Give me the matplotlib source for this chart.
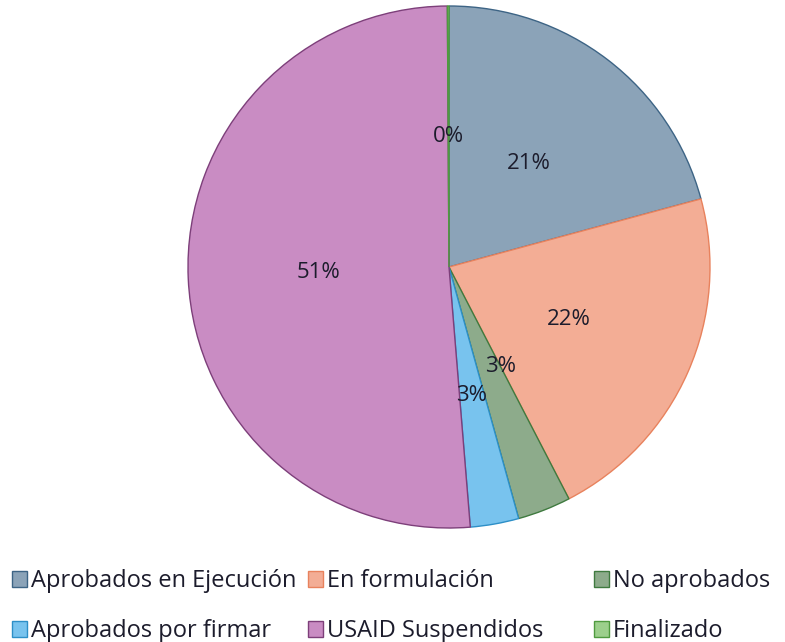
import matplotlib
matplotlib.use("Agg")
import matplotlib.pyplot as plt
import numpy as np
from matplotlib.patches import Patch

plt.rcParams['font.family'] = ['Open Sans', 'DejaVu Sans']

categories = ["Aprobados en Ejecución", "En formulación", "No aprobados",
              "Aprobados por firmar", "USAID Suspendidos", "Finalizado"]
values = [20.8, 21.6, 3.3, 3.0, 51.2, 0.1]
colors = ["#8ba3b8", "#f3ad95", "#8dab8b", "#78c3ee", "#c98cc3", "#9ccf8c"]
edges = ["#3d6485", "#e8825d", "#3f7a3f", "#2d8fc7", "#7d3f7a", "#4f9a3f"]

fig = plt.figure(figsize=(7.85, 6.42), dpi=100)
W, H = 785, 642
cx, cy, R = 449, 267, 261
ax = fig.add_axes([(cx - R) / W, 1 - (cy + R) / H, 2 * R / W, 2 * R / H])

wedges, texts, autotexts = ax.pie(
    values, colors=colors, startangle=90, counterclock=False,
    autopct=lambda p: f"{p:.0f}%", pctdistance=0.5, radius=1,
    wedgeprops=dict(linewidth=1.0),
    textprops=dict(fontsize=16, color="#1c1c2c", fontweight="medium"))
for w, ec in zip(wedges, edges):
    w.set_edgecolor(ec)

# nudge the "No aprobados" label like the reference
w = wedges[2]
ang = np.deg2rad((w.theta1 + w.theta2) / 2 + 6)
autotexts[2].set_position((0.43 * np.cos(ang), 0.43 * np.sin(ang)))

ax.set_xlim(-1, 1)
ax.set_ylim(-1, 1)
ax.set_aspect('equal')
ax.axis('off')

handles = [Patch(facecolor=c, edgecolor=e, linewidth=1.0) for c, e in zip(colors, edges)]

col_x = [12, 308, 594]
cols = [[0, 3], [1, 4], [2, 5]]
for x, idx in zip(col_x, cols):
    leg = fig.legend([handles[i] for i in idx], [categories[i] for i in idx],
                     loc='upper left', bbox_to_anchor=(x / W, 1 - 569 / H),
                     frameon=False, prop=dict(size=17, weight="medium"),
                     handlelength=0.65, handleheight=0.65, handletextpad=0.15,
                     labelspacing=1.1, borderpad=0, borderaxespad=0)
    for t in leg.get_texts():
        t.set_color("#1c1c2c")

fig.savefig("out.png", dpi=100, facecolor="white")
